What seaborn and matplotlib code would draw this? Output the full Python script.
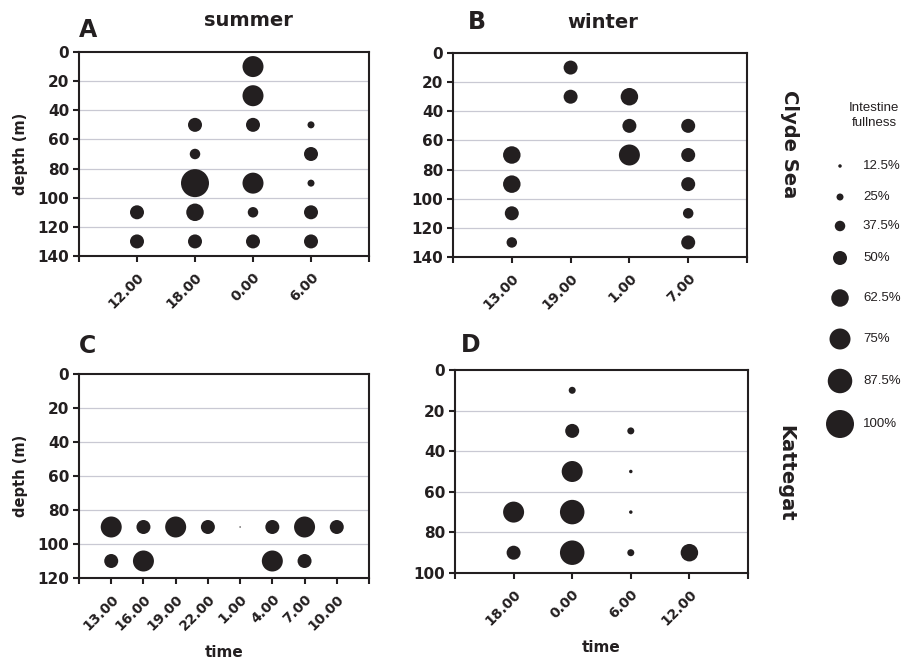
import matplotlib
matplotlib.use("Agg")
import matplotlib.pyplot as plt
import matplotlib.transforms as mtrans
import seaborn as sns
import pandas as pd

sns.set_theme(style="white")
plt.rcParams['font.family'] = ['Liberation Sans', 'DejaVu Sans']
BOLD = ['DejaVu Sans']

DARK = "#231f20"

# ---------------- data ----------------
# Panel A: Clyde Sea, summer
a_times = ["12.00", "18.00", "0.00", "6.00"]
a_time = ["0.00", "0.00", "18.00", "0.00", "6.00", "18.00", "6.00", "18.00", "0.00", "6.00",
          "12.00", "18.00", "0.00", "6.00", "12.00", "18.00", "0.00", "6.00"]
a_depth = [10, 30, 50, 50, 50, 70, 70, 90, 90, 90, 110, 110, 110, 110, 130, 130, 130, 130]
a_full = [0.75, 0.75, 0.5, 0.5, 0.25, 0.375, 0.5, 1.0, 0.75, 0.25,
          0.5, 0.625, 0.375, 0.5, 0.5, 0.5, 0.5, 0.5]

# Panel B: Clyde Sea, winter
b_times = ["13.00", "19.00", "1.00", "7.00"]
b_time = ["19.00", "19.00", "1.00", "1.00", "7.00", "13.00", "1.00", "7.00",
          "13.00", "7.00", "13.00", "7.00", "13.00", "7.00"]
b_depth = [10, 30, 30, 50, 50, 70, 70, 70, 90, 90, 110, 110, 130, 130]
b_full = [0.5, 0.5, 0.625, 0.5, 0.5, 0.625, 0.75, 0.5, 0.625, 0.5, 0.5, 0.375, 0.375, 0.5]

# Panel C: Kattegat, summer
c_times = ["13.00", "16.00", "19.00", "22.00", "1.00", "4.00", "7.00", "10.00"]
c_time = ["13.00", "16.00", "19.00", "22.00", "1.00", "4.00", "7.00", "10.00",
          "13.00", "16.00", "4.00", "7.00"]
c_depth = [90, 90, 90, 90, 90, 90, 90, 90, 110, 110, 110, 110]
c_full = [0.75, 0.5, 0.75, 0.5, 0.05, 0.5, 0.75, 0.5, 0.5, 0.75, 0.75, 0.5]

# Panel D: Kattegat, winter
d_times = ["18.00", "0.00", "6.00", "12.00"]
d_time = ["0.00", "0.00", "6.00", "0.00", "6.00", "18.00", "0.00", "6.00",
          "18.00", "0.00", "6.00", "12.00"]
d_depth = [10, 30, 30, 50, 50, 70, 70, 70, 90, 90, 90, 90]
d_full = [0.25, 0.5, 0.25, 0.75, 0.125, 0.75, 0.875, 0.125, 0.5, 0.875, 0.25, 0.625]

legend_levels = [0.125, 0.25, 0.375, 0.5, 0.625, 0.75, 0.875, 1.0]
legend_labels = ["12.5%", "25%", "37.5%", "50%", "62.5%", "75%", "87.5%", "100%"]

# layout only: legend row centres in pixels from the top of the figure
legend_rows_px = [166, 197, 226, 258, 298, 339, 381, 424]


def size_of(v):
    # marker diameter proportional to fullness (about 28 px at 100%)
    return (28 * v * 0.72) ** 2


fig = plt.figure(figsize=(9.04, 6.6), dpi=100)
W, H = 904, 660


def add_ax(l, r, t, b):
    return fig.add_axes([l / W, 1 - b / H, (r - l) / W, (b - t) / H])


def panel(ax, times, time, depth, full, ymax, ylabel=False, xlabel=False):
    pos = [times.index(t) + 1 for t in time]
    df = pd.DataFrame({"pos": pos, "depth": depth, "full": full})
    sizes = {v: size_of(v) for v in set(full)}
    ax.set_axisbelow(True)
    sns.scatterplot(data=df, x="pos", y="depth", size="full", sizes=sizes,
                    color=DARK, linewidth=0, legend=False, ax=ax, zorder=3)
    n = len(times)
    ax.set_xlim(0, n + 1)
    ax.set_ylim(ymax, 0)
    ax.set_xticks(range(0, n + 2))
    ax.set_xticklabels([""] + times + [""], rotation=45, ha="right",
                       rotation_mode="anchor", fontsize=10, fontweight="bold",
                       color=DARK, family=BOLD)
    off = mtrans.ScaledTranslation(5 / 72, 0, fig.dpi_scale_trans)
    for lab in ax.get_xticklabels():
        lab.set_transform(lab.get_transform() + off)
    yt = list(range(0, ymax + 1, 20))
    ax.set_yticks(yt)
    ax.set_yticklabels([str(v) for v in yt], fontsize=11, fontweight="bold",
                       color=DARK, family=BOLD)
    for y in yt[1:-1]:
        ax.axhline(y, color="#c9c9d3", lw=0.9, zorder=1)
    ax.grid(False)
    for s in ax.spines.values():
        s.set_visible(True)
        s.set_color(DARK)
        s.set_linewidth(1.5)
    ax.tick_params(axis="both", direction="out", length=4, width=1.5, color=DARK,
                   pad=3)
    ax.tick_params(axis="x", pad=6)
    ax.tick_params(bottom=True, left=True, top=False, right=False)
    ax.set_xlabel("time" if xlabel else "", fontsize=11, fontweight="bold",
                  color=DARK, labelpad=9, family=BOLD)
    ax.set_ylabel("depth (m)" if ylabel else "", fontsize=10.5, fontweight="bold",
                  color=DARK, labelpad=7, family=BOLD)


axA = add_ax(79, 369, 52, 256)
axB = add_ax(453, 747, 53, 257)
axC = add_ax(79, 369, 374, 578)
axD = add_ax(455, 748, 370, 573)

panel(axA, a_times, a_time, a_depth, a_full, 140, ylabel=True)
panel(axB, b_times, b_time, b_depth, b_full, 140)
panel(axC, c_times, c_time, c_depth, c_full, 120, ylabel=True, xlabel=True)
panel(axD, d_times, d_time, d_depth, d_full, 100, xlabel=True)


def ftext(x, y, s, **kw):
    fig.text(x / W, 1 - y / H, s, **kw)


bold = dict(fontweight="bold", color=DARK, ha="center", va="center", family=BOLD)
ftext(88, 30, "A", fontsize=17, **bold)
ftext(477, 22, "B", fontsize=17, **bold)
ftext(88, 346, "C", fontsize=17, **bold)
ftext(471, 345, "D", fontsize=17, **bold)
ftext(248, 20, "summer", fontsize=14, **bold)
ftext(603, 22, "winter", fontsize=14, **bold)
ftext(790, 144, "Clyde Sea", fontsize=14, rotation=-90, **bold)
ftext(786, 473, "Kattegat", fontsize=14, rotation=-90, **bold)
ftext(874, 108, "Intestine", fontsize=9.5, color=DARK, ha="center", va="center")
ftext(874, 123, "fullness", fontsize=9.5, color=DARK, ha="center", va="center")

# legend axes (y in pixel rows of the figure)
axL = add_ax(825, 904, 140, 450)
ldf = pd.DataFrame({"x": [0.19] * len(legend_levels),
                    "y": legend_rows_px,
                    "full": legend_levels})
sns.scatterplot(data=ldf, x="x", y="y", size="full",
                sizes={v: size_of(v) for v in legend_levels},
                color=DARK, linewidth=0, legend=False, ax=axL)
axL.set_xlim(0, 1)
axL.set_ylim(450, 140)
for yy, lab in zip(legend_rows_px, legend_labels):
    axL.text(0.48, yy, lab, fontsize=9.5, color=DARK, ha="left", va="center")
axL.axis("off")

fig.savefig("out.png", dpi=100)
